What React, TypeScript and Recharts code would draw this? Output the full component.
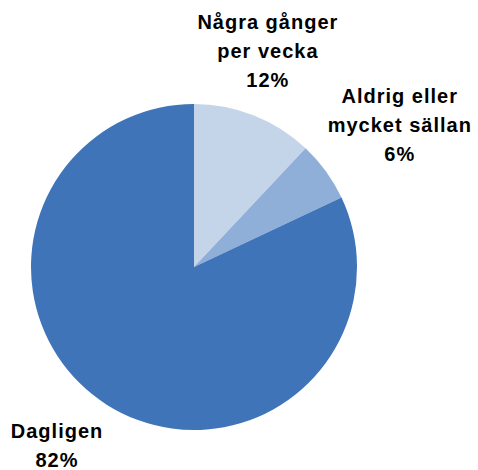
import React from "react";
import { PieChart, Pie, Cell } from "recharts";

// answer categories (each label is split into lines)
const categories = [
  ["Några gånger", "per vecka"],
  ["Aldrig eller", "mycket sällan"],
  ["Dagligen"],
];
const shares = [12, 6, 82];
const colors = ["#C4D5EA", "#8FAED8", "#3F74B9"];

const data = categories.map((lines, i) => ({
  name: lines.join(" "),
  lines,
  value: shares[i],
}));

const RAD = Math.PI / 180;
// label placement relative to slice mid angle
const labelDist = [228, 250, 225];
const labelTurn = [2.7, -1.4, -5.1];

const renderLabel = (props: any) => {
  const { cx, cy, midAngle, index, payload } = props;
  const a = (midAngle + labelTurn[index]) * RAD;
  const r = labelDist[index];
  const x = cx + r * Math.cos(a);
  const y = cy - r * Math.sin(a);
  const src = payload.lines ? payload : payload.payload;
  const lines: string[] = [...src.lines, `${src.value}%`];
  const lh = 29;
  const top = y - ((lines.length - 1) * lh) / 2;
  return (
    <text
      x={x}
      y={top}
      textAnchor="middle"
      dominantBaseline="central"
      fill="#000"
      fontFamily="'Liberation Sans', Arial, sans-serif"
      fontWeight="bold"
      fontSize={20}
      letterSpacing={1}
    >
      {lines.map((l, i) => (
        <tspan key={i} x={x} y={top + i * lh}>
          {l}
        </tspan>
      ))}
    </text>
  );
};

export default function App() {
  return (
    <div style={{ position: "absolute", left: 0, top: 0, background: "#fff" }}>
      <PieChart width={478} height={470} margin={{ top: 0, right: 0, bottom: 0, left: 0 }}>
        <Pie
          data={data}
          dataKey="value"
          cx={194}
          cy={267}
          outerRadius={163}
          startAngle={90}
          endAngle={-270}
          stroke="none"
          label={renderLabel}
          labelLine={false}
          isAnimationActive={false}
        >
          {data.map((d, i) => (
            <Cell key={d.name} fill={colors[i]} />
          ))}
        </Pie>
      </PieChart>
    </div>
  );
}
